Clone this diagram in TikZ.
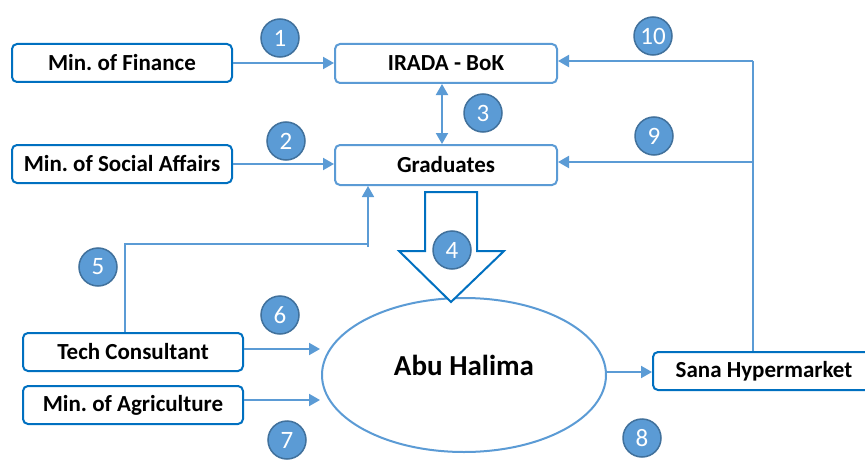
\documentclass[tikz,border=0pt]{standalone}
\usepackage{fontspec}
\setmainfont{Carlito}
\usetikzlibrary{arrows.meta,shapes.geometric,calc}
\definecolor{lblue}{HTML}{5B9BD5}
\definecolor{dblue}{HTML}{0070C0}
\definecolor{cborder}{HTML}{41719C}
\frenchspacing
\begin{document}
\begin{tikzpicture}[x=1pt,y=-1pt,
  dbox/.style={draw=dblue,line width=2pt,rounded corners=5pt,fill=white,minimum width=220pt,minimum height=38pt,inner sep=0pt,font=\fontsize{23}{25}\selectfont\bfseries},
  lbox/.style={dbox,draw=lblue},
  num/.style={circle,draw=cborder,line width=1.5pt,fill=lblue,text=white,minimum size=38pt,inner sep=0pt,font=\fontsize{25}{27}\selectfont},
  conn/.style={draw=lblue,line width=2pt,-{Triangle[length=11pt,width=12pt]}},
  thinline/.style={draw=lblue,line width=1.2pt}
]
\clip (0,0) rectangle (865,460);
\fill[white] (0,0) rectangle (865,460);

% boxes
\node[dbox] (mf) at (122,63) {Min. of Finance};
\node[dbox] (ms) at (122,164) {Min. of Social Affairs};
\node[lbox,minimum width=222pt,minimum height=39pt] (ir) at (446,63.5) {IRADA - BoK};
\node[lbox,minimum width=222pt,minimum height=40pt] (gr) at (446,165) {Graduates};
\node[dbox] (tc) at (133,352) {Tech Consultant};
\node[dbox] (ma) at (133,405) {Min. of Agriculture};
\node[dbox,minimum width=222pt] (sa) at (764,371) {Sana Hypermarket};

% ellipse
\node[ellipse,draw=lblue,line width=2pt,minimum width=284pt,minimum height=154pt,inner sep=0pt] (ah) at (464,375) {};
\node[font=\fontsize{29}{32}\selectfont\bfseries] (aht) at ([yshift=10pt]ah.center) {Abu Halima};

% big down arrow
\draw[dblue,line width=2pt,fill=white,line join=miter]
  (425,192) -- (477,192) -- (477,251) -- (504,251) -- (451,302) -- (399,251) -- (425,251) -- cycle;

% connectors
\draw[conn] (mf.east) -- (mf.east -| ir.west);
\draw[conn] (ms.east) -- (ms.east -| gr.west);
\draw[draw=lblue,line width=2pt,{Triangle[length=11pt,width=12pt]}-{Triangle[length=11pt,width=12pt]}] ([xshift=-4pt]ir.south) -- ([xshift=-4pt]ir.south |- gr.north);

\coordinate (sv) at (753,61);
\coordinate (sv2) at (753,162);
\draw[thinline] (sv |- sa.north) -- (sv);
\draw[conn] (sv) -- (sv -| ir.east);
\draw[conn] (sv2) -- (sv2 -| gr.east);

\coordinate (t1) at (125,244);
\coordinate (t2) at (368,244);
\draw[thinline] (t1 |- tc.north) -- (t1) -- (t2);
\draw[draw=lblue,line width=1.6pt,-{Triangle[length=11pt,width=12pt]}] ([yshift=-3pt]t2) -- (t2 |- gr.south);

\coordinate (e1) at (320,349);
\coordinate (e2) at (320,400);
\coordinate (e3) at (606,372);
\draw[conn] (tc.east |- e1) -- (e1);
\draw[conn] (ma.east |- e2) -- (e2);
\draw[conn] (e3) -- (e3 -| sa.west);

% numbered circles
\node[num] (n1) at (280,38) {1};
\node[num] (n2) at (286,141) {2};
\node[num] (n3) at (483,113) {3};
\node[num] (n4) at (452,250) {4};
\node[num] (n5) at (98,267) {5};
\node[num] (n6) at (280,315) {6};
\node[num] (n7) at (287,440) {7};
\node[num] (n8) at (642,438) {8};
\node[num] (n9) at (654,136) {9};
\node[num] (n10) at (653,36) {10};
\end{tikzpicture}
\end{document}
